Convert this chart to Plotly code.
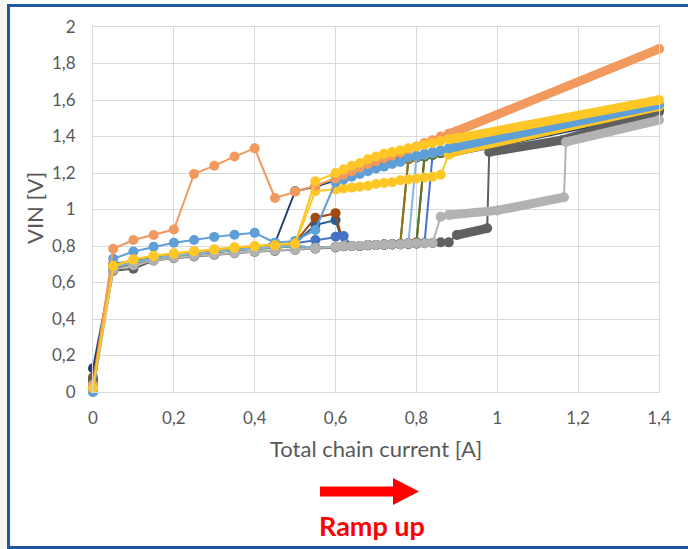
import plotly.graph_objects as go

# ---------------- data ----------------
X_TICKS = [0, 0.2, 0.4, 0.6, 0.8, 1.0, 1.2, 1.4]
X_TICK_LABELS = ["0", "0,2", "0,4", "0,6", "0,8", "1", "1,2", "1,4"]
Y_TICKS = [0, 0.2, 0.4, 0.6, 0.8, 1.0, 1.2, 1.4, 1.6, 1.8, 2.0]
Y_TICK_LABELS = ["0", "0,2", "0,4", "0,6", "0,8", "1", "1,2", "1,4", "1,6", "1,8", "2"]

# current ramp (A): coarse steps, then fine steps, then densely sampled tail
X_STD = [0, 0.05, 0.1, 0.15, 0.2, 0.25, 0.3, 0.35, 0.4, 0.45, 0.5, 0.55, 0.6,
         0.62, 0.64, 0.66, 0.68, 0.7, 0.72, 0.74, 0.76, 0.78, 0.8, 0.82, 0.84, 0.86, 0.88,
         0.9, 1.4]
X_LGREY = [0, 0.05, 0.1, 0.15, 0.2, 0.25, 0.3, 0.35, 0.4, 0.45, 0.5, 0.55, 0.6,
           0.62, 0.64, 0.66, 0.68, 0.7, 0.72, 0.74, 0.76, 0.78, 0.8, 0.82, 0.84,
           0.86, 0.88, 1.0, 1.165, 1.17, 1.4]
X_DGREY = [0, 0.05, 0.1, 0.15, 0.2, 0.25, 0.3, 0.35, 0.4, 0.45, 0.5, 0.55, 0.6,
           0.62, 0.64, 0.66, 0.68, 0.7, 0.72, 0.74, 0.76, 0.78, 0.8, 0.82, 0.84, 0.86, 0.88,
           0.9, 0.975, 0.98, 1.16, 1.4]

Y_NAVY = [0.13, 0.70, 0.72, 0.74, 0.755, 0.765, 0.775, 0.785, 0.79, 0.815, 1.10, 1.125, 1.16,
          1.175, 1.19, 1.205, 1.22, 1.235, 1.245, 1.255, 1.265, 1.278, 1.285, 1.29, 1.30, 1.31, 1.315,
          1.32, 1.55]
Y_MEDBLUE = [0.06, 0.69, 0.71, 0.735, 0.75, 0.76, 0.77, 0.78, 0.79, 0.80, 0.815, 0.915, 0.942,
             0.80, 0.80, 0.80, 0.805, 0.805, 0.808, 0.81, 0.81, 1.275, 1.285, 1.295, 1.305, 1.315, 1.325,
             1.335, 1.555]
Y_BROWN = [0.08, 0.68, 0.70, 0.73, 0.745, 0.757, 0.767, 0.78, 0.79, 0.80, 0.82, 0.955, 0.98,
           0.80, 0.80, 0.80, 0.805, 0.805, 0.808, 0.81, 0.812, 0.815, 0.82, 1.29, 1.30, 1.31, 1.32,
           1.33, 1.56]
Y_BLUE = [0.05, 0.69, 0.71, 0.735, 0.75, 0.76, 0.77, 0.78, 0.79, 0.80, 0.815, 0.833, 0.851,
          0.855, 0.80, 0.80, 0.805, 0.805, 0.808, 0.81, 0.812, 0.815, 0.815, 0.818, 1.30, 1.31, 1.32,
          1.33, 1.56]
Y_OLIVE = [0.03, 0.68, 0.705, 0.73, 0.745, 0.757, 0.767, 0.777, 0.785, 0.79, 0.80, 0.79, 0.795,
           0.80, 0.80, 0.80, 0.805, 0.805, 0.808, 0.81, 0.81, 1.275, 1.285, 1.295, 1.305, 1.315, 1.325,
           1.335, 1.555]
Y_GREEN = [0.05, 0.68, 0.705, 0.73, 0.745, 0.757, 0.767, 0.777, 0.785, 0.79, 0.80, 0.79, 0.795,
           0.80, 0.80, 0.80, 0.805, 0.805, 0.808, 0.81, 0.81, 0.812, 0.815, 1.29, 1.30, 1.31, 1.32,
           1.33, 1.56]
Y_LTBLUE2 = [0.04, 0.685, 0.71, 0.732, 0.747, 0.758, 0.768, 0.778, 0.786, 0.792, 0.80, 0.79, 0.795,
             0.80, 0.80, 0.80, 0.805, 0.805, 0.808, 0.81, 0.81, 0.812, 1.29, 1.30, 1.31, 1.32, 1.33,
             1.34, 1.565]
Y_DGREY = [0.07, 0.665, 0.675, 0.72, 0.733, 0.743, 0.752, 0.76, 0.768, 0.773, 0.778, 0.785, 0.792,
           0.798, 0.80, 0.80, 0.803, 0.805, 0.805, 0.808, 0.81, 0.81, 0.813, 0.815, 0.817, 0.82, 0.82,
           0.86, 0.897, 1.315, 1.38, 1.535]
Y_LGREY = [0.0, 0.67, 0.695, 0.72, 0.735, 0.745, 0.755, 0.762, 0.77, 0.775, 0.78, 0.787, 0.795,
           0.80, 0.80, 0.802, 0.805, 0.805, 0.807, 0.81, 0.81, 0.812, 0.815, 0.815, 0.818,
           0.96, 0.97, 0.995, 1.067, 1.37, 1.49]
Y_LTBLUE = [0.0, 0.73, 0.77, 0.796, 0.818, 0.833, 0.85, 0.862, 0.872, 0.818, 0.828, 0.888, 1.15,
            1.165, 1.18, 1.195, 1.21, 1.225, 1.235, 1.25, 1.26, 1.285, 1.295, 1.305, 1.315, 1.325, 1.335,
            1.345, 1.575]
Y_ORANGE = [0.04, 0.785, 0.833, 0.86, 0.89, 1.195, 1.24, 1.29, 1.335, 1.063, 1.098, 1.13, 1.17,
            1.19, 1.21, 1.23, 1.25, 1.265, 1.28, 1.295, 1.31, 1.33, 1.345, 1.365, 1.38, 1.40, 1.415,
            1.43, 1.88]
Y_YELLOW2 = [0.01, 0.69, 0.725, 0.745, 0.758, 0.77, 0.78, 0.79, 0.798, 0.803, 0.812, 1.10, 1.11,
             1.115, 1.12, 1.125, 1.13, 1.14, 1.145, 1.15, 1.16, 1.165, 1.17, 1.175, 1.18, 1.19, 1.30,
             1.32, 1.565]
Y_YELLOW = [0.02, 0.692, 0.727, 0.747, 0.76, 0.773, 0.782, 0.793, 0.80, 0.805, 0.815, 1.155, 1.2,
            1.22, 1.24, 1.255, 1.275, 1.29, 1.305, 1.315, 1.325, 1.335, 1.345, 1.355, 1.365, 1.375, 1.385,
            1.39, 1.60]

# densely sampled stretches (index ranges into each series)
DENSE_STD = [(26, 28)]
DENSE_LGREY = [(26, 28), (29, 30)]
DENSE_DGREY = [(27, 28), (29, 31)]

SERIES = [
    dict(x=X_STD, y=Y_NAVY, color="#22406F", dense=DENSE_STD),
    dict(x=X_STD, y=Y_MEDBLUE, color="#255E91", dense=DENSE_STD),
    dict(x=X_STD, y=Y_BROWN, color="#A0480F", dense=DENSE_STD),
    dict(x=X_STD, y=Y_BLUE, color="#4472C4", dense=DENSE_STD),
    dict(x=X_STD, y=Y_OLIVE, color="#9B7400", dense=DENSE_STD),
    dict(x=X_STD, y=Y_GREEN, color="#4E7A2F", dense=DENSE_STD),
    dict(x=X_STD, y=Y_LTBLUE2, color="#86B5E2", dense=DENSE_STD),
    dict(x=X_DGREY, y=Y_DGREY, color="#606060", dense=DENSE_DGREY),
    dict(x=X_LGREY, y=Y_LGREY, color="#B2B2B2", dense=DENSE_LGREY),
    dict(x=X_STD, y=Y_YELLOW2, color="#FFC726", dense=DENSE_STD),
    dict(x=X_STD, y=Y_LTBLUE, color="#5E9FD8", dense=DENSE_STD),
    dict(x=X_STD, y=Y_ORANGE, color="#F2995E", dense=DENSE_STD),
    dict(x=X_STD, y=Y_YELLOW, color="#FFC726", dense=DENSE_STD),
]

# ---------------- layout geometry ----------------
FIG_W, FIG_H = 688, 549
PL, PR, PT, PB = 93, 659, 27, 392   # plot area in pixels


def pxx(x):
    return (x - PL) / (PR - PL)


def pxy(y):
    return (PB - y) / (PB - PT)


FONT = "Lato"
TXT = "#595959"
GRID = "#D9D9D9"

fig = go.Figure()
for s in SERIES:
    c = s["color"]
    fig.add_trace(go.Scatter(
        x=s["x"], y=s["y"], mode="lines+markers",
        line=dict(color=c, width=2),
        marker=dict(size=10, color=c, line=dict(width=0)),
        cliponaxis=False, hoverinfo="skip", showlegend=False))
    for a, b in s["dense"]:
        fig.add_trace(go.Scatter(
            x=s["x"][a:b + 1], y=s["y"][a:b + 1], mode="lines",
            line=dict(color=c, width=9),
            cliponaxis=False, hoverinfo="skip", showlegend=False))

axis_common = dict(showgrid=True, gridcolor=GRID, gridwidth=1, zeroline=False,
                   showline=True, linecolor=GRID, linewidth=1, mirror=True,
                   ticks="", tickfont=dict(family=FONT, size=17, color=TXT),
                   fixedrange=True)

fig.update_layout(
    width=FIG_W, height=FIG_H, autosize=False,
    margin=dict(l=PL, r=FIG_W - PR, t=PT, b=FIG_H - PB, autoexpand=False),
    paper_bgcolor="white", plot_bgcolor="white",
    xaxis=dict(range=[0, 1.4], tickvals=X_TICKS, ticktext=X_TICK_LABELS,
               ticklabelstandoff=11, **axis_common),
    yaxis=dict(range=[0, 2], tickvals=Y_TICKS, ticktext=Y_TICK_LABELS,
               ticklabelstandoff=13, **axis_common),
    hovermode=False,
)

annotations = [
    dict(text="Total chain current [A]", x=pxx(376), y=pxy(449), xref="paper", yref="paper",
         showarrow=False, xanchor="center", yanchor="middle",
         font=dict(family=FONT, size=22, color=TXT)),
    dict(text="VIN [V]", x=pxx(34), y=pxy(208), xref="paper", yref="paper",
         showarrow=False, xanchor="center", yanchor="middle", textangle=-90,
         font=dict(family=FONT, size=22, color=TXT)),
    dict(text="<b>Ramp up</b>", x=pxx(372), y=pxy(525), xref="paper", yref="paper",
         showarrow=False, xanchor="center", yanchor="middle",
         font=dict(family=FONT, size=27, color="#FF0000")),
]
fig.update_layout(annotations=annotations)

# arrow and frame decorations
arrow_pts = [(320, 486.5), (393, 486.5), (393, 478), (419, 491.5), (393, 505), (393, 496.5), (320, 496.5)]
path = "M " + " L ".join(f"{pxx(a):.5f},{pxy(b):.5f}" for a, b in arrow_pts) + " Z"

FRAME = "#1F56A3"
shapes = [
    dict(type="rect", xref="paper", yref="paper", x0=pxx(0), x1=pxx(7), y0=pxy(0), y1=pxy(549),
         fillcolor="#F6F6F3", line=dict(width=0), layer="below"),
    dict(type="path", xref="paper", yref="paper", path=path, fillcolor="#FF0000",
         line=dict(width=0)),
    dict(type="line", xref="paper", yref="paper", x0=pxx(7), x1=pxx(700), y0=pxy(5.5), y1=pxy(5.5),
         line=dict(color=FRAME, width=3)),
    dict(type="line", xref="paper", yref="paper", x0=pxx(8.5), x1=pxx(8.5), y0=pxy(4), y1=pxy(549),
         line=dict(color=FRAME, width=3)),
    dict(type="line", xref="paper", yref="paper", x0=pxx(7), x1=pxx(700), y0=pxy(547.5), y1=pxy(547.5),
         line=dict(color=FRAME, width=3)),
]
fig.update_layout(shapes=shapes)

fig.write_html(
    "out.html",
    config={"displayModeBar": False, "staticPlot": True},
    post_script="document.body.style.margin='0';document.body.style.padding='0';"
                "document.documentElement.style.overflow='hidden';",
)
